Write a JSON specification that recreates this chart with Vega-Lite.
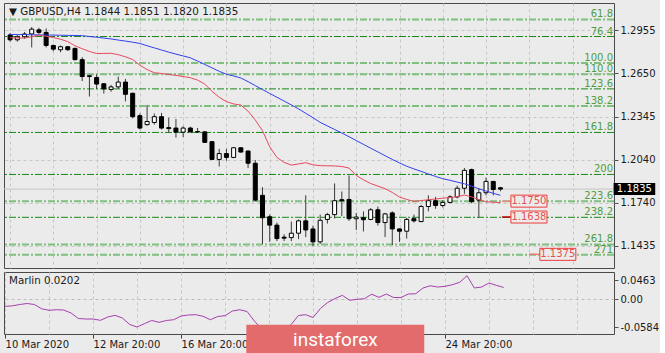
{
  "$schema": "https://vega.github.io/schema/vega-lite/v6.json",
  "background": "#ebebeb",
  "padding": {"left": 2, "top": 2, "right": 0, "bottom": 0},
  "spacing": 2,
  "config": {
    "view": {"stroke": "#4a4a4a", "strokeWidth": 1},
    "font": "DejaVu Sans",
    "axis": {"labelFont": "DejaVu Sans", "labelFontSize": 10, "labelColor": "#1a1a1a"}
  },
  "datasets": {
    "bars": [
      {"i":0,"o":1.2921,"h":1.2935,"l":1.2874,"c":1.2887,"ma1":1.2925,"ma2":1.2901,"m":-0.0117},
      {"i":1,"o":1.2887,"h":1.2921,"l":1.2874,"c":1.2908,"ma1":1.2924,"ma2":1.2900,"m":-0.0108},
      {"i":2,"o":1.2908,"h":1.2941,"l":1.2894,"c":1.2928,"ma1":1.2924,"ma2":1.2899,"m":-0.0086},
      {"i":3,"o":1.2928,"h":1.2977,"l":1.2833,"c":1.2962,"ma1":1.2922,"ma2":1.2908,"m":-0.0069},
      {"i":4,"o":1.2957,"h":1.2972,"l":1.2928,"c":1.2939,"ma1":1.2922,"ma2":1.2920,"m":-0.0086},
      {"i":5,"o":1.2939,"h":1.2967,"l":1.2833,"c":1.2847,"ma1":1.2920,"ma2":1.2912,"m":-0.0159},
      {"i":6,"o":1.2847,"h":1.2853,"l":1.2806,"c":1.2821,"ma1":1.2920,"ma2":1.2903,"m":-0.0184},
      {"i":7,"o":1.2817,"h":1.2847,"l":1.2799,"c":1.2838,"ma1":1.2919,"ma2":1.2891,"m":-0.0174},
      {"i":8,"o":1.2838,"h":1.2843,"l":1.2809,"c":1.2817,"ma1":1.2918,"ma2":1.2874,"m":-0.0179},
      {"i":9,"o":1.2826,"h":1.2833,"l":1.2741,"c":1.2747,"ma1":1.2917,"ma2":1.2845,"m":-0.0230},
      {"i":10,"o":1.2747,"h":1.2765,"l":1.2596,"c":1.2628,"ma1":1.2916,"ma2":1.2824,"m":-0.0323},
      {"i":11,"o":1.2628,"h":1.2638,"l":1.2487,"c":1.2634,"ma1":1.2910,"ma2":1.2805,"m":-0.0331},
      {"i":12,"o":1.2621,"h":1.2643,"l":1.2541,"c":1.2575,"ma1":1.2905,"ma2":1.2790,"m":-0.0331},
      {"i":13,"o":1.2577,"h":1.2582,"l":1.2508,"c":1.2541,"ma1":1.2899,"ma2":1.2791,"m":-0.0353},
      {"i":14,"o":1.2537,"h":1.2569,"l":1.2521,"c":1.2555,"ma1":1.2893,"ma2":1.2792,"m":-0.0297},
      {"i":15,"o":1.2555,"h":1.2628,"l":1.2541,"c":1.2589,"ma1":1.2885,"ma2":1.2782,"m":-0.0269},
      {"i":16,"o":1.2589,"h":1.2611,"l":1.2453,"c":1.2503,"ma1":1.2878,"ma2":1.2767,"m":-0.0314},
      {"i":17,"o":1.2510,"h":1.2514,"l":1.2333,"c":1.2345,"ma1":1.2870,"ma2":1.2748,"m":-0.0424},
      {"i":18,"o":1.2352,"h":1.2367,"l":1.2255,"c":1.2265,"ma1":1.2861,"ma2":1.2708,"m":-0.0466},
      {"i":19,"o":1.2289,"h":1.2428,"l":1.2282,"c":1.2311,"ma1":1.2845,"ma2":1.2677,"m":-0.0410},
      {"i":20,"o":1.2304,"h":1.2367,"l":1.2289,"c":1.2345,"ma1":1.2830,"ma2":1.2655,"m":-0.0356},
      {"i":21,"o":1.2345,"h":1.2372,"l":1.2255,"c":1.2265,"ma1":1.2815,"ma2":1.2649,"m":-0.0387},
      {"i":22,"o":1.2268,"h":1.2338,"l":1.2232,"c":1.2261,"ma1":1.2800,"ma2":1.2643,"m":-0.0356},
      {"i":23,"o":1.2265,"h":1.2329,"l":1.2198,"c":1.2236,"ma1":1.2786,"ma2":1.2636,"m":-0.0343},
      {"i":24,"o":1.2236,"h":1.2277,"l":1.2202,"c":1.2265,"ma1":1.2773,"ma2":1.2628,"m":-0.0280},
      {"i":25,"o":1.2265,"h":1.2275,"l":1.2233,"c":1.2238,"ma1":1.2760,"ma2":1.2620,"m":-0.0263},
      {"i":26,"o":1.2240,"h":1.2265,"l":1.2233,"c":1.2237,"ma1":1.2737,"ma2":1.2603,"m":-0.0258},
      {"i":27,"o":1.2238,"h":1.2243,"l":1.2162,"c":1.2164,"ma1":1.2713,"ma2":1.2575,"m":-0.0285},
      {"i":28,"o":1.2169,"h":1.2172,"l":1.2040,"c":1.2044,"ma1":1.2689,"ma2":1.2524,"m":-0.0343},
      {"i":29,"o":1.2044,"h":1.2119,"l":1.1994,"c":1.2085,"ma1":1.2665,"ma2":1.2482,"m":-0.0289},
      {"i":30,"o":1.2085,"h":1.2119,"l":1.2035,"c":1.2058,"ma1":1.2644,"ma2":1.2451,"m":-0.0275},
      {"i":31,"o":1.2058,"h":1.2131,"l":1.2053,"c":1.2126,"ma1":1.2632,"ma2":1.2435,"m":-0.0196},
      {"i":32,"o":1.2126,"h":1.2131,"l":1.2091,"c":1.2096,"ma1":1.2618,"ma2":1.2427,"m":-0.0174},
      {"i":33,"o":1.2103,"h":1.2108,"l":1.1983,"c":1.2017,"ma1":1.2592,"ma2":1.2384,"m":-0.0204},
      {"i":34,"o":1.2017,"h":1.2040,"l":1.1746,"c":1.1757,"ma1":1.2564,"ma2":1.2322,"m":-0.0365},
      {"i":35,"o":1.1791,"h":1.1848,"l":1.1448,"c":1.1633,"ma1":1.2536,"ma2":1.2246,"m":-0.0500},
      {"i":36,"o":1.1640,"h":1.1655,"l":1.1463,"c":1.1581,"ma1":1.2509,"ma2":1.2133,"m":-0.0551},
      {"i":37,"o":1.1581,"h":1.1599,"l":1.1468,"c":1.1486,"ma1":1.2482,"ma2":1.2058,"m":-0.0575},
      {"i":38,"o":1.1496,"h":1.1516,"l":1.1468,"c":1.1489,"ma1":1.2455,"ma2":1.2023,"m":-0.0517},
      {"i":39,"o":1.1493,"h":1.1606,"l":1.1468,"c":1.1524,"ma1":1.2428,"ma2":1.2004,"m":-0.0427},
      {"i":40,"o":1.1524,"h":1.1621,"l":1.1482,"c":1.1611,"ma1":1.2400,"ma2":1.2012,"m":-0.0272},
      {"i":41,"o":1.1611,"h":1.1791,"l":1.1497,"c":1.1547,"ma1":1.2369,"ma2":1.2021,"m":-0.0258},
      {"i":42,"o":1.1554,"h":1.1577,"l":1.1434,"c":1.1463,"ma1":1.2338,"ma2":1.2006,"m":-0.0306},
      {"i":43,"o":1.1463,"h":1.1655,"l":1.1448,"c":1.1615,"ma1":1.2305,"ma2":1.2000,"m":-0.0154},
      {"i":44,"o":1.1621,"h":1.1667,"l":1.1592,"c":1.1655,"ma1":1.2280,"ma2":1.1999,"m":-0.0052},
      {"i":45,"o":1.1655,"h":1.1875,"l":1.1628,"c":1.1753,"ma1":1.2255,"ma2":1.1998,"m":0.0015},
      {"i":46,"o":1.1760,"h":1.1818,"l":1.1644,"c":1.1752,"ma1":1.2230,"ma2":1.1994,"m":0.0069},
      {"i":47,"o":1.1762,"h":1.1931,"l":1.1611,"c":1.1626,"ma1":1.2204,"ma2":1.1983,"m":-0.0015},
      {"i":48,"o":1.1626,"h":1.1667,"l":1.1547,"c":1.1638,"ma1":1.2177,"ma2":1.1931,"m":0.0002},
      {"i":49,"o":1.1633,"h":1.1678,"l":1.1536,"c":1.1619,"ma1":1.2150,"ma2":1.1900,"m":0.0012},
      {"i":50,"o":1.1621,"h":1.1701,"l":1.1615,"c":1.1689,"ma1":1.2123,"ma2":1.1874,"m":0.0088},
      {"i":51,"o":1.1689,"h":1.1712,"l":1.1577,"c":1.1599,"ma1":1.2097,"ma2":1.1856,"m":0.0035},
      {"i":52,"o":1.1599,"h":1.1667,"l":1.1497,"c":1.1660,"ma1":1.2070,"ma2":1.1838,"m":0.0091},
      {"i":53,"o":1.1667,"h":1.1678,"l":1.1441,"c":1.1554,"ma1":1.2044,"ma2":1.1811,"m":0.0032},
      {"i":54,"o":1.1554,"h":1.1558,"l":1.1463,"c":1.1538,"ma1":1.2019,"ma2":1.1779,"m":0.0032},
      {"i":55,"o":1.1538,"h":1.1633,"l":1.1486,"c":1.1621,"ma1":1.1996,"ma2":1.1762,"m":0.0091},
      {"i":56,"o":1.1626,"h":1.1655,"l":1.1599,"c":1.1611,"ma1":1.1977,"ma2":1.1748,"m":0.0096},
      {"i":57,"o":1.1606,"h":1.1723,"l":1.1602,"c":1.1712,"ma1":1.1960,"ma2":1.1754,"m":0.0193},
      {"i":58,"o":1.1712,"h":1.1791,"l":1.1678,"c":1.1753,"ma1":1.1941,"ma2":1.1760,"m":0.0231},
      {"i":59,"o":1.1753,"h":1.1780,"l":1.1696,"c":1.1719,"ma1":1.1924,"ma2":1.1765,"m":0.0209},
      {"i":60,"o":1.1719,"h":1.1757,"l":1.1705,"c":1.1741,"ma1":1.1908,"ma2":1.1771,"m":0.0221},
      {"i":61,"o":1.1741,"h":1.1791,"l":1.1735,"c":1.1780,"ma1":1.1897,"ma2":1.1775,"m":0.0248},
      {"i":62,"o":1.1780,"h":1.1859,"l":1.1769,"c":1.1841,"ma1":1.1884,"ma2":1.1781,"m":0.0289},
      {"i":63,"o":1.1841,"h":1.1983,"l":1.1802,"c":1.1967,"ma1":1.1872,"ma2":1.1793,"m":0.0400},
      {"i":64,"o":1.1972,"h":1.1979,"l":1.1735,"c":1.1746,"ma1":1.1855,"ma2":1.1780,"m":0.0193},
      {"i":65,"o":1.1757,"h":1.1841,"l":1.1633,"c":1.1809,"ma1":1.1837,"ma2":1.1762,"m":0.0209},
      {"i":66,"o":1.1809,"h":1.1916,"l":1.1791,"c":1.1889,"ma1":1.1821,"ma2":1.1745,"m":0.0277},
      {"i":67,"o":1.1889,"h":1.1891,"l":1.1791,"c":1.1832,"ma1":1.1805,"ma2":1.1743,"m":0.0238},
      {"i":68,"o":1.1844,"h":1.1851,"l":1.1820,"c":1.1835,"ma1":1.1791,"ma2":1.1739,"m":0.0202}
    ],
    "fib": [
      {"level":"61.8","p":1.3030},
      {"level":"76.4","p":1.2910},
      {"level":"100.0","p":1.2724},
      {"level":"110.0","p":1.2645},
      {"level":"123.6","p":1.2541},
      {"level":"138.2","p":1.2421},
      {"level":"161.8","p":1.2234},
      {"level":"200","p":1.1938},
      {"level":"223.6","p":1.1750},
      {"level":"238.2","p":1.1636},
      {"level":"261.8","p":1.1445},
      {"level":"271","p":1.1373}
    ],
    "tags": [{"v":1.1750},{"v":1.1638},{"v":1.1375}]
  },
  "vconcat": [
    {
      "width": 610,
      "height": 265,
      "title": {"text": "▼ GBPUSD,H4  1.1844 1.1851 1.1820 1.1835", "anchor": "start", "frame": "group", "orient": "top", "offset": -14, "dx": 5, "fontSize": 10.3, "fontWeight": "normal", "font": "DejaVu Sans", "color": "#1a1a1a"},
      "layer": [
        {
          "data": {"name": "bars"},
          "mark": {"type": "rule", "color": "#3a3a3a", "strokeWidth": 1, "clip": true, "opacity": 0},
          "encoding": {
            "x": {"field": "i", "type": "quantitative", "title": null,
              "scale": {"domain": [-0.15, 83.05], "nice": false, "zero": false},
              "axis": {"orient": "bottom", "values": [0, 6, 12, 18, 24, 30, 36, 42, 48, 54, 60, 66, 72, 78], "tickCount": 20, "labels": false, "ticks": false, "domain": false, "grid": true, "gridDash": [3, 3], "gridColor": "#c6c6c6", "title": null}},
            "y": {"field": "l", "type": "quantitative", "title": null,
              "scale": {"domain": [1.1314, 1.3111], "nice": false, "zero": false},
              "axis": {"orient": "right", "values": [1.2955, 1.265, 1.2345, 1.204, 1.174, 1.1435], "tickCount": 10, "format": ".4f", "labelOverlap": false, "grid": true, "gridDash": [3, 3], "gridColor": "#c6c6c6", "domain": false, "tickSize": 4, "tickColor": "#505050", "labelPadding": 2, "title": null}},
            "y2": {"field": "h"}
          }
        },
        {
          "data": {"name": "bars"},
          "transform": [{"filter": "datum.i == 68"}],
          "mark": {"type": "rule", "color": "#c4c4c4", "strokeWidth": 1},
          "encoding": {
            "y": {"field": "c", "type": "quantitative", "title": null}
          }
        },
        {
          "data": {"name": "fib"},
          "transform": [{"filter": {"field": "level", "oneOf": ["61.8", "100.0", "110.0", "138.2", "223.6", "261.8", "271"]}}],
          "mark": {"type": "rule", "color": "#7fbf7f", "strokeWidth": 2, "strokeDash": [7, 2, 2, 2]},
          "encoding": {"y": {"field": "p", "type": "quantitative", "title": null}}
        },
        {
          "data": {"name": "fib"},
          "transform": [{"filter": {"field": "level", "oneOf": ["76.4", "123.6", "161.8", "200", "238.2"]}}],
          "mark": {"type": "rule", "color": "#168a16", "strokeWidth": 1, "strokeDash": [7, 2, 2, 2]},
          "encoding": {"y": {"field": "p", "type": "quantitative", "title": null}}
        },
        {
          "data": {"name": "fib"},
          "mark": {"type": "text", "align": "right", "baseline": "alphabetic", "dx": -1, "dy": -2, "fontSize": 10, "color": "#4e9e3e", "font": "DejaVu Sans"},
          "encoding": {
            "x": {"value": "width"},
            "y": {"field": "p", "type": "quantitative", "title": null},
            "text": {"field": "level"}
          }
        },
        {
          "data": {"name": "bars"},
          "mark": {"type": "rule", "color": "#3a3a3a", "strokeWidth": 1, "clip": true},
          "encoding": {
            "x": {"field": "i", "type": "quantitative", "title": null},
            "y": {"field": "l", "type": "quantitative", "title": null},
            "y2": {"field": "h"}
          }
        },
        {
          "data": {"name": "bars"},
          "mark": {"type": "bar", "size": 4, "stroke": "#000000", "strokeWidth": 1, "clip": true},
          "encoding": {
            "x": {"field": "i", "type": "quantitative", "title": null},
            "y": {"field": "o", "type": "quantitative", "title": null},
            "y2": {"field": "c"},
            "fill": {"condition": {"test": "datum.c < datum.o", "value": "#000000"}, "value": "#ffffff"}
          }
        },
        {
          "data": {"name": "bars"},
          "mark": {"type": "line", "color": "#3340f0", "strokeWidth": 1, "clip": true},
          "encoding": {
            "x": {"field": "i", "type": "quantitative", "title": null},
            "y": {"field": "ma1", "type": "quantitative", "title": null}
          }
        },
        {
          "data": {"name": "bars"},
          "mark": {"type": "line", "color": "#e8485f", "strokeWidth": 1, "clip": true},
          "encoding": {
            "x": {"field": "i", "type": "quantitative", "title": null},
            "y": {"field": "ma2", "type": "quantitative", "title": null}
          }
        },
        {
          "data": {"name": "tags"},
          "transform": [{"filter": "datum.v > 1.15"}],
          "mark": {"type": "rule", "strokeWidth": 1.5},
          "encoding": {
            "x": {"datum": 68.2, "type": "quantitative"},
            "x2": {"datum": 69.45},
            "y": {"field": "v", "type": "quantitative", "title": null},
            "color": {"condition": {"test": "datum.v < 1.17", "value": "#c00000"}, "value": "#f08a8a"}
          }
        },
        {
          "data": {"name": "tags"},
          "transform": [{"filter": "datum.v < 1.15"}],
          "mark": {"type": "rule", "strokeWidth": 1.5, "color": "#f07878", "clip": false},
          "encoding": {
            "x": {"datum": 71.95, "type": "quantitative"},
            "x2": {"datum": 73.46},
            "y": {"field": "v", "type": "quantitative", "title": null}
          }
        },
        {
          "data": {"name": "tags"},
          "transform": [{"filter": "datum.v > 1.15"}],
          "mark": {"type": "bar", "size": 12, "fill": "#ebebeb", "stroke": "#f03a3a", "strokeWidth": 1, "clip": false},
          "encoding": {
            "x": {"datum": 69.45, "type": "quantitative"},
            "x2": {"datum": 74.45},
            "y": {"field": "v", "type": "quantitative", "title": null}
          }
        },
        {
          "data": {"name": "tags"},
          "transform": [{"filter": "datum.v < 1.15"}],
          "mark": {"type": "bar", "size": 12, "fill": "#ebebeb", "stroke": "#f03a3a", "strokeWidth": 1, "clip": false},
          "encoding": {
            "x": {"datum": 73.46, "type": "quantitative"},
            "x2": {"datum": 78.45},
            "y": {"field": "v", "type": "quantitative", "title": null}
          }
        },
        {
          "data": {"name": "tags"},
          "transform": [{"filter": "datum.v > 1.15"}],
          "mark": {"type": "text", "align": "center", "baseline": "middle", "fontSize": 10, "color": "#e85050", "font": "DejaVu Sans", "clip": false},
          "encoding": {
            "x": {"datum": 71.95, "type": "quantitative"},
            "y": {"field": "v", "type": "quantitative", "title": null},
            "text": {"field": "v", "format": ".4f"}
          }
        },
        {
          "data": {"name": "tags"},
          "transform": [{"filter": "datum.v < 1.15"}],
          "mark": {"type": "text", "align": "center", "baseline": "middle", "fontSize": 10, "color": "#e85050", "font": "DejaVu Sans", "clip": false},
          "encoding": {
            "x": {"datum": 75.95, "type": "quantitative"},
            "y": {"field": "v", "type": "quantitative", "title": null},
            "text": {"field": "v", "format": ".4f"}
          }
        },
        {
          "data": {"name": "bars"},
          "transform": [{"filter": "datum.i == 68"}],
          "mark": {"type": "bar", "size": 12, "fill": "#000000", "clip": false},
          "encoding": {
            "x": {"datum": 83.69, "type": "quantitative"},
            "x2": {"datum": 89.46},
            "y": {"field": "c", "type": "quantitative", "title": null}
          }
        },
        {
          "data": {"name": "bars"},
          "transform": [{"filter": "datum.i == 68"}],
          "mark": {"type": "text", "align": "left", "baseline": "middle", "fontSize": 10, "color": "#ffffff", "font": "DejaVu Sans", "clip": false},
          "encoding": {
            "x": {"datum": 84.14, "type": "quantitative"},
            "y": {"field": "c", "type": "quantitative", "title": null},
            "text": {"field": "c", "format": ".4f"}
          }
        }
      ]
    },
    {
      "width": 610,
      "height": 62,
      "title": {"text": "Marlin 0.0202", "anchor": "start", "frame": "group", "orient": "top", "offset": -14, "dx": 5, "fontSize": 10.3, "fontWeight": "normal", "font": "DejaVu Sans", "color": "#1a1a1a"},
      "layer": [
        {
          "data": {"name": "bars"},
          "mark": {"type": "line", "color": "#a540ac", "strokeWidth": 1, "clip": true},
          "encoding": {
            "x": {"field": "i", "type": "quantitative", "title": null,
              "scale": {"domain": [-0.15, 83.05], "nice": false, "zero": false},
              "axis": {"orient": "bottom", "values": [0, 6, 12, 18, 24, 30, 36, 42, 48, 54, 60, 66, 72, 78], "tickCount": 20,
                "labelExpr": "(datum.value == 0) ? '10 Mar 2020' : (datum.value == 12) ? '12 Mar 20:00' : (datum.value == 24) ? '16 Mar 20:00' : (datum.value == 60) ? '24 Mar 20:00' : ''",
                "labelAlign": "left", "labelBaseline": "top", "labelPadding": 1, "labelOverlap": false, "labelFlush": false, "labelFontSize": 10,
                "tickSize": 4, "tickColor": {"condition": {"test": "datum.value == 0 || datum.value == 12 || datum.value == 24 || datum.value == 60", "value": "#404040"}, "value": "transparent"},
                "grid": true, "gridDash": [3, 3], "gridColor": "#c6c6c6", "domain": false, "title": null}},
            "y": {"field": "m", "type": "quantitative", "title": null,
              "scale": {"domain": [-0.0584, 0.0463], "nice": false, "zero": false},
              "axis": {"orient": "right", "values": [0.0323, 0, -0.0466], "tickCount": 10, "format": ".2f", "labelExpr": "datum.value > 0.01 ? '0.0463' : (datum.value < -0.01 ? '-0.0584' : datum.label)", "labelOverlap": false, "labelFlush": false, "labelBound": false, "grid": true, "gridDash": [3, 3], "gridColor": {"condition": {"test": "abs(datum.value) < 0.001", "value": "#bcbcbc"}, "value": "transparent"}, "domain": false, "tickSize": 4, "tickColor": "#505050", "labelPadding": 2, "title": null}}
          }
        },
        {
          "data": {"values": [{"brand": "instaforex"}]},
          "mark": {"type": "rect", "fill": "#e36b6b", "clip": false},
          "encoding": {
            "x": {"datum": 32.9, "type": "quantitative"},
            "x2": {"datum": 57.17},
            "y": {"datum": -0.0427, "type": "quantitative"},
            "y2": {"datum": -0.0939}
          }
        },
        {
          "data": {"values": [{"brand": "instaforex"}]},
          "mark": {"type": "text", "align": "left", "baseline": "alphabetic", "font": "Roboto", "fontSize": 19, "color": "#ffffff", "clip": false},
          "encoding": {
            "x": {"datum": 39.27, "type": "quantitative"},
            "y": {"datum": -0.0787, "type": "quantitative"},
            "text": {"field": "brand"}
          }
        }
      ]
    }
  ]
}
